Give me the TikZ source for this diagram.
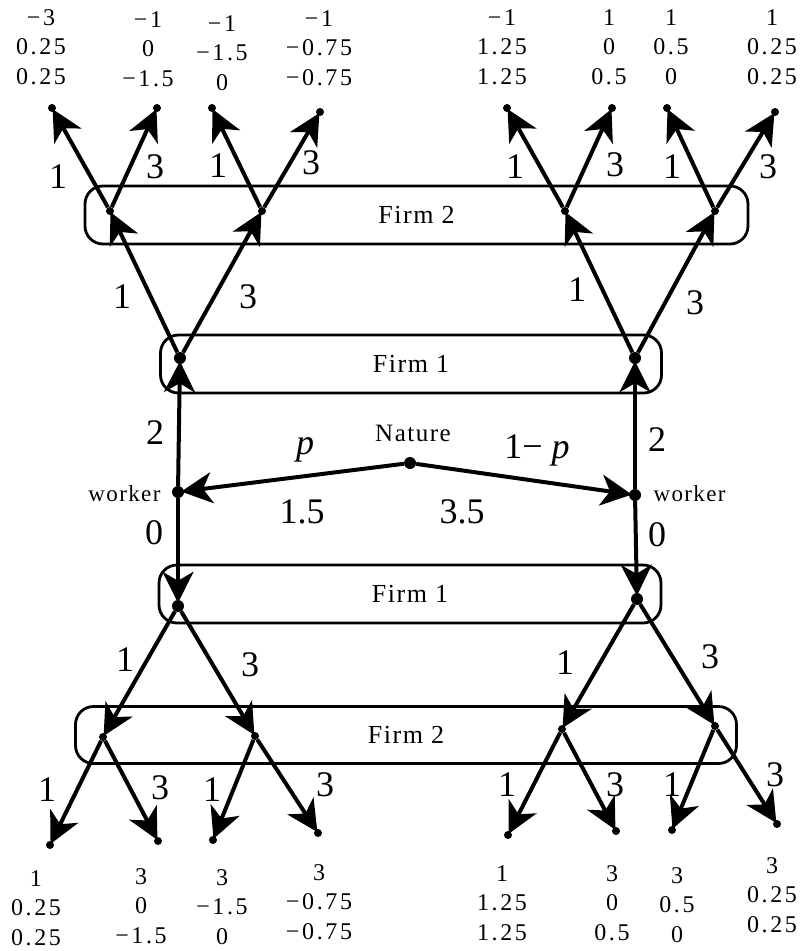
\documentclass[tikz,border=0pt]{standalone}
\usepackage{fontspec}
\setmainfont{Liberation Serif}
\newfontfamily\payfont[LetterSpace=6]{Liberation Serif}
\newfontfamily\numfont[LetterSpace=11]{Liberation Serif}
\usetikzlibrary{arrows.meta}

\begin{document}
\begin{tikzpicture}[x=1pt,y=-1pt,
  dot/.style={circle,fill,inner sep=0pt,minimum size=12pt},
  tdot/.style={circle,fill,inner sep=0pt,minimum size=8pt},
  move/.style={-{Stealth[length=31pt,width=31pt,inset=9pt]},line width=4pt,shorten >=-3pt},
  infoset/.style={draw,line width=2.8pt,rounded corners=18pt,font=\payfont\fontsize{26}{28}\selectfont},
  lab/.style={font=\fontsize{36}{40}\selectfont},
  pay/.style={font=\numfont\fontsize{24}{29.5}\selectfont,align=center}]
  \useasboundingbox (0,0) rectangle (805,951);
  % information sets
  \node[infoset,minimum width=663pt,minimum height=58pt] (up2) at (416.5,215) {Firm 2};
  \node[infoset,minimum width=501pt,minimum height=58pt] (up1) at (411,364) {Firm 1};
  \node[infoset,minimum width=502pt,minimum height=58pt] (dn1) at (410,594) {Firm 1};
  \node[infoset,minimum width=661pt,minimum height=57pt] (dn2) at (406,735) {Firm 2};
  % decision nodes
  \node[dot] (nat) at (410,463) {};
  \node[dot] (wL) at (178,492) {};
  \node[dot] (wR) at (635,495) {};
  \node[dot] (aL) at (180,358) {};
  \node[dot] (aR) at (635,358) {};
  \node[dot] (bL) at (178,606) {};
  \node[dot] (bR) at (637,599) {};
  \foreach \n/\x/\y in {c1/110/211,c2/262/211,c3/565/211,c4/715/211,
                        d1/103/737,d2/255/736,d3/562/729,d4/715/726}
    \node[tdot] (\n) at (\x,\y) {};
  % terminal nodes
  \foreach \n/\x/\y in {t1/52/108,t2/157/108,t3/212/108,t4/320/112,
                        t5/507/108,t6/612/108,t7/667/108,t8/775/112,
                        s1/50/845,s2/158/841,s3/213/840,s4/318/833,
                        s5/508/835,s6/616/831,s7/672/830,s8/777/824}
    \node[tdot] (\n) at (\x,\y) {};
  % moves
  \draw[move] (nat) -- (wL);
  \draw[move] (nat) -- (wR);
  \foreach \a/\b in {wL/aL,wR/aR,wL/bL,wR/bR,
                     aL/c1,aL/c2,aR/c3,aR/c4,bL/d1,bL/d2,bR/d3,bR/d4,
                     c1/t1,c1/t2,c2/t3,c2/t4,c3/t5,c3/t6,c4/t7,c4/t8,
                     d1/s1,d1/s2,d2/s3,d2/s4,d3/s5,d3/s6,d4/s7,d4/s8}
    \draw[move] (\a) -- (\b);
  % players and chance
  \node[font=\payfont\fontsize{25}{28}\selectfont] (natlab) at (413,433) {Nature};
  \node[font=\payfont\fontsize{23}{26}\selectfont,anchor=east] (wLlab) at (164,494) {worker};
  \node[font=\payfont\fontsize{23}{26}\selectfont,anchor=west] (wRlab) at (650,494) {worker};
  \node[lab] (pL) at (305,450) {\textit{p}};
  \node[lab] (pR) at (537,450) {1− \textit{p}};
  % action labels
  \foreach \x/\y/\t [count=\i] in {58/177/1,155/167/3,218/166/1,311/163/3,
                                   515/167/1,615/165/3,672/167/1,768/167/3,
                                   122/297/1,248/297/3,577/290/1,695/303/3,
                                   155/433/2,154/533/0,657/440/2,657/535/0,
                                   302/512/1.5,462/512/3.5,
                                   125/660/1,250/665/3,565/663/1,710/657/3,
                                   47/790/1,160/788/3,212/790/1,325/785/3,
                                   507/785/1,615/785/3,672/785/1,775/775/3}
    \node[lab] (al\i) at (\x,\y) {\t};
  % payoffs
  \foreach \n/\x/\y/\t in {pt1/41/47/{−3\\0.25\\0.25},pt2/148/49/{−1\\0\\−1.5},
                           pt3/222/53/{−1\\−1.5\\0},pt4/319/48/{−1\\−0.75\\−0.75},
                           pt5/502/47/{−1\\1.25\\1.25},pt6/609/47/{1\\0\\0.5},
                           pt7/671/47/{1\\0.5\\0},pt8/772/47/{1\\0.25\\0.25},
                           pb1/36/908/{1\\0.25\\0.25},pb2/141/906/{3\\0\\−1.5},
                           pb3/222/907/{3\\−1.5\\0},pb4/319/902/{3\\−0.75\\−0.75},
                           pb5/502/903/{1\\1.25\\1.25},pb6/612/903/{3\\0\\0.5},
                           pb7/677/905/{3\\0.5\\0},pb8/772/895/{3\\0.25\\0.25}}
    \node[pay] (\n) at (\x,\y) {\t};
\end{tikzpicture}
\end{document}
